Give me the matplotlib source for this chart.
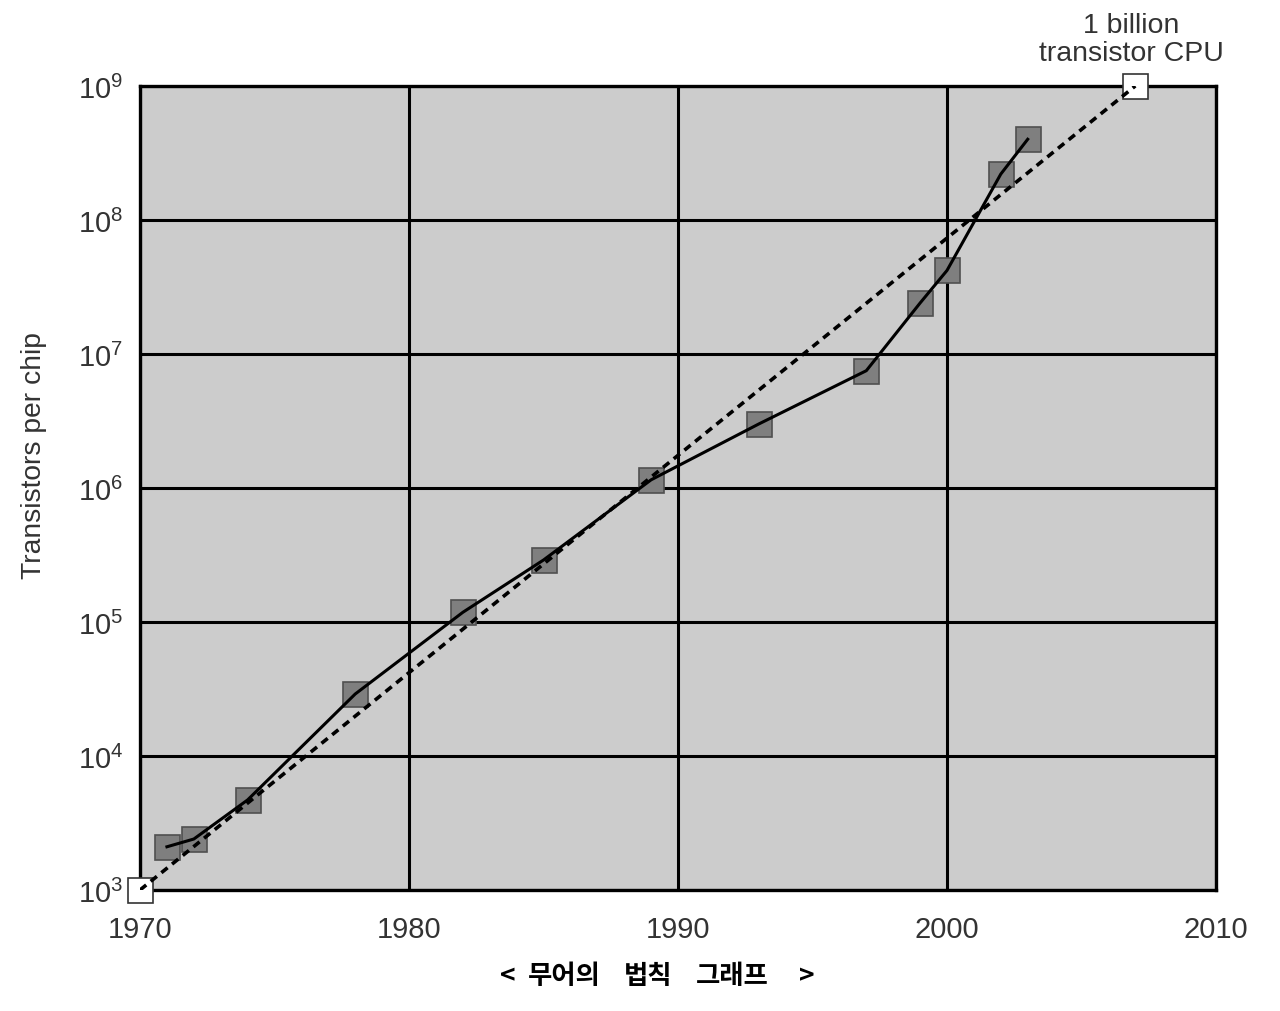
import matplotlib
matplotlib.use("Agg")
import matplotlib.pyplot as plt

plt.rcParams['font.family'] = ['Liberation Sans', 'DejaVu Sans']

# 연도별 칩당 트랜지스터 수
years = [1971, 1972, 1974, 1978, 1982, 1985, 1989, 1993, 1997, 1999, 2000, 2002, 2003]
transistors = [2100, 2400, 4700, 29000, 118000, 290000, 1150000, 3000000,
               7500000, 24000000, 42000000, 220000000, 400000000]

# 무어의 법칙 추세선 끝점
trend_years = [1970, 2007]
trend_values = [1e3, 1e9]

x_ticks = [1970, 1980, 1990, 2000, 2010]
y_ticks = [1e3, 1e4, 1e5, 1e6, 1e7, 1e8, 1e9]

# 하단 제목 조각들
title_parts = ['<', '무어의', '법칙', '그래프', '>']
title_x = [508, 564, 648, 732, 807]

fig = plt.figure(figsize=(12.8, 10.12), dpi=100)
ax = fig.add_axes([0.1094, 0.1196, 0.8406, 0.7945])
ax.set_facecolor('#cccccc')
ax.set_yscale('log')
ax.set_xlim(1970, 2010)
ax.set_ylim(1e3, 1e9)
ax.set_xticks(x_ticks)
ax.set_yticks(y_ticks)
ax.minorticks_off()
ax.tick_params(length=0, labelsize=21, labelcolor='#333333', pad=12)
ax.tick_params(axis='x', pad=18)

# 그리드
ax.grid(True, color='black', lw=2.2)
ax.set_axisbelow(True)
for s in ax.spines.values():
    s.set_linewidth(2.4)
    s.set_color('black')

# 실제 데이터
ax.plot(years, transistors, ls='none', marker='s', ms=18,
        mfc='#7f7f7f', mec='#505050', mew=1.2, zorder=3)
ax.plot(years, transistors, color='black', lw=2.2, zorder=4)

# 추세선
ax.plot(trend_years, trend_values, color='black', lw=2.6,
        ls=(0, (2.2, 1.6)), zorder=5)
ax.plot(trend_years, trend_values, ls='none', marker='s', ms=18,
        mfc='white', mec='#333333', mew=1.2, zorder=4, clip_on=False)

ax.annotate('1 billion\ntransistor CPU', xy=(2007, 1e9), xytext=(-3, 14),
            textcoords='offset points', ha='center', va='bottom',
            fontsize=20.5, color='#333333', linespacing=1.1)

ax.set_ylabel('Transistors per chip', fontsize=20.3, color='#333333')
ax.yaxis.set_label_coords(-0.0864, 0.542)

for part, px in zip(title_parts, title_x):
    fig.text(px / 1280, 0.0346, part, ha='center', va='center',
             fontsize=19, fontweight='bold',
             family=['Noto Sans CJK KR', 'DejaVu Sans'])

fig.savefig('out.png', dpi=100)
